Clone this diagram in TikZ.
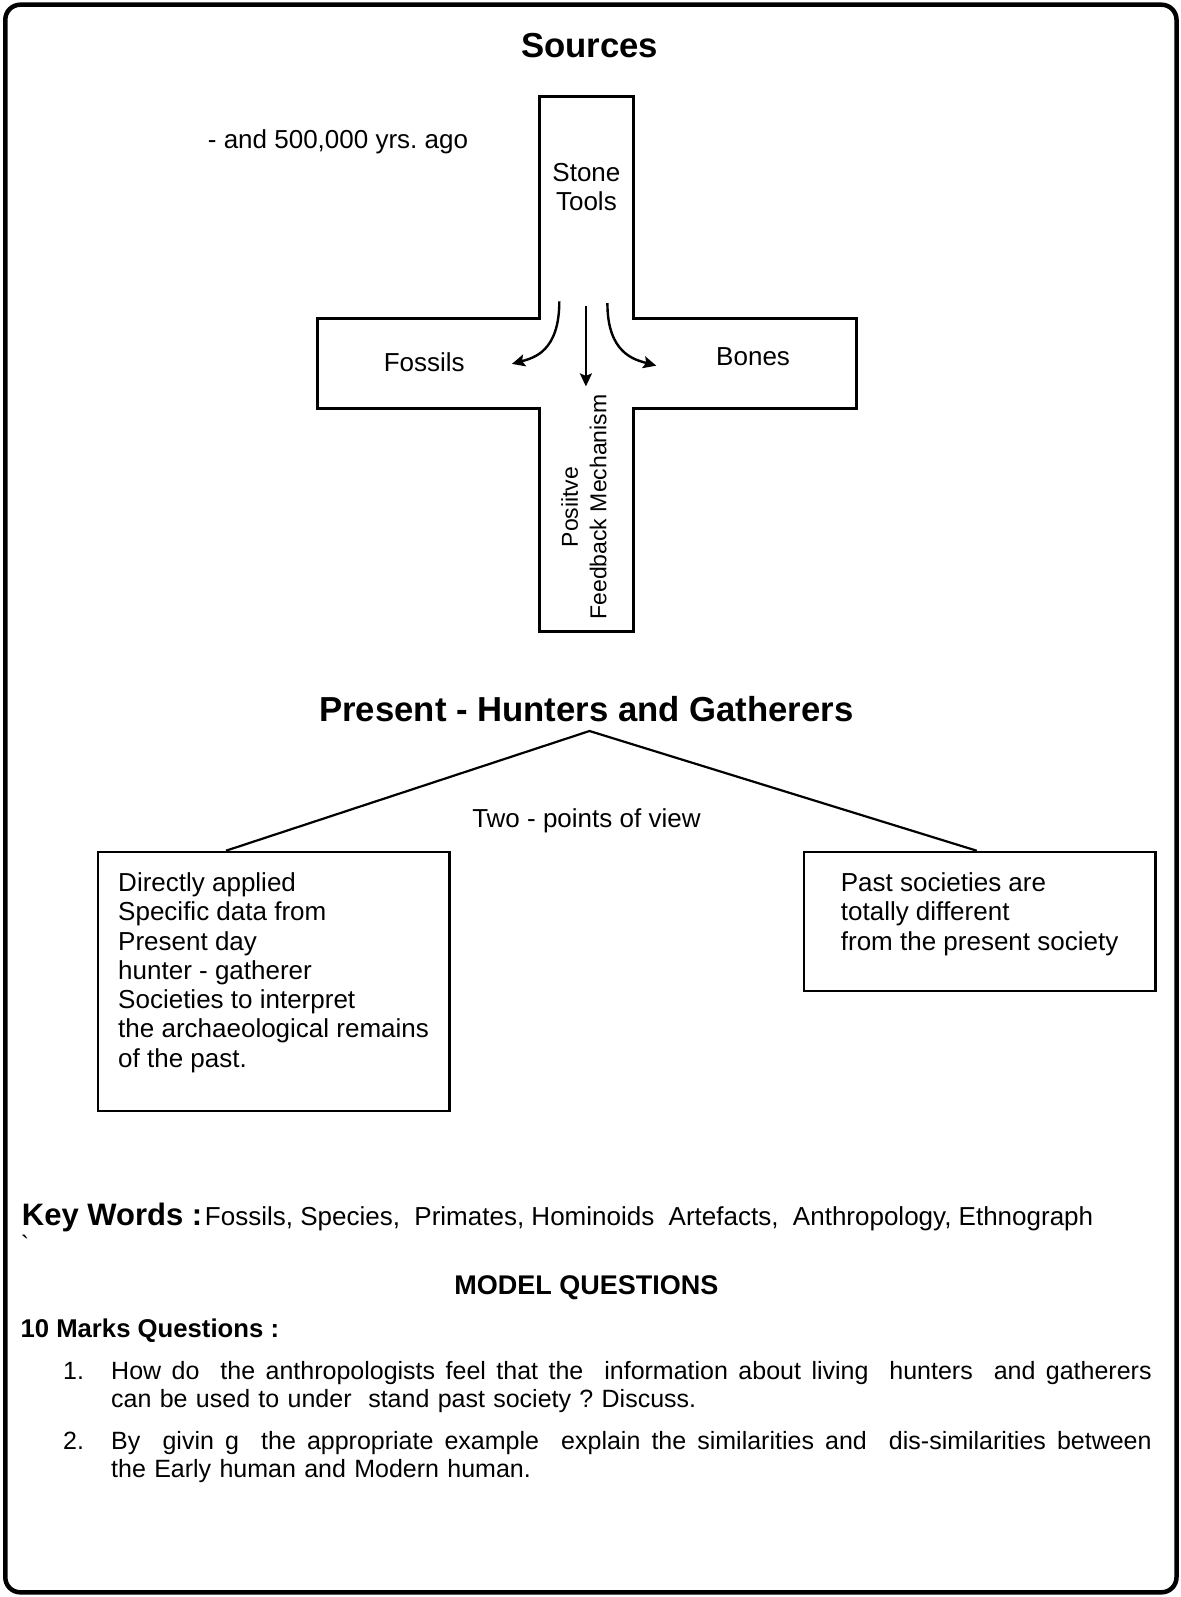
\documentclass[tikz,border=0pt]{standalone}
\usepackage{fontspec}
\setmainfont{Liberation Sans}
\usetikzlibrary{arrows.meta}
\frenchspacing
\newcommand{\js}{\hskip 6.95pt plus 1fil\relax}

\begin{document}
\begin{tikzpicture}[x=1pt, y=-1pt,
    heading/.style={font=\fontsize{34.7}{40}\selectfont\bfseries, inner sep=0pt},
    txt/.style={font=\fontsize{26}{29.5}\selectfont, inner sep=0pt},
    qtext/.style={font=\fontsize{25}{28}\selectfont, inner sep=0pt},
    box/.style={rectangle, draw, line width=2.2pt, align=left, inner sep=0pt, font=\fontsize{26}{29.3}\selectfont},
    arrow/.style={-{Stealth[length=13pt, width=12pt, inset=2.5pt]}, line width=2.4pt}
]
\useasboundingbox (0,0) rectangle (1180,1597);
\draw[line width=4.5pt, rounded corners=15pt] (5.3,4.7) rectangle (1176.5,1592.3);

% sources cross
\node[heading] (sources) at (589.5,45.8) {Sources};
\node[txt, anchor=base west] (ago) at (207.7,149) {- and 500,000 yrs. ago};
\draw[line width=2.6pt] (539.6,96.7) -- (633.2,96.7) -- (633.2,318.7) -- (856.2,318.7)
    -- (856.2,408.2) -- (633.2,408.2) -- (633.2,631.2) -- (539.6,631.2) -- (539.6,408.2)
    -- (317.6,408.2) -- (317.6,318.7) -- (539.6,318.7) -- cycle;
\node[txt, align=center] (stone) at (586.4,187.1) {Stone\\Tools};
\node[txt] (fossils) at (424.2,362) {Fossils};
\node[txt] (bones) at (753.1,356.8) {Bones};
\node[txt, font=\fontsize{23}{28.5}\selectfont, rotate=90, align=center] (feedback) at (584,507) {Posiitve\\Feedback Mechanism};

\coordinate (lstart) at (559.3,301.4);
\coordinate (lend) at (511.9,363.9);
\coordinate (mstart) at (585.9,305.7);
\coordinate (mend) at (585.9,386.4);
\coordinate (rstart) at (607.4,303.2);
\coordinate (rend) at (656.3,365.7);
\draw[arrow] (lstart) .. controls +(0,50) and +(22,-6) .. (lend);
\draw[arrow] (mstart) -- (mend);
\draw[arrow] (rstart) .. controls +(0,50) and +(-22,-6) .. (rend);

% hunters and gatherers
\node[heading] (present) at (586.4,708.6) {Present - Hunters and Gatherers};
\node[txt] (view) at (586.4,820.6) {Two - points of view};
\node[box, anchor=north west, minimum width=351.6pt, minimum height=259.3pt] (direct) at (96.7,850.7)
    {Directly applied\\Specific data from\\Present day\\hunter - gatherer\\Societies to interpret\\the archaeological remains\\of the past.\rule[-23pt]{0pt}{23pt}};
\node[box, anchor=north west, minimum width=351.6pt, minimum height=139.3pt] (past) at (802.7,850.7)
    {Past societies are\\totally different\\from the present society\rule[-20pt]{0pt}{20pt}};
\coordinate (apex) at (589.5,731);
\coordinate (lfoot) at (226,850.7);
\coordinate (rfoot) at (976.7,850.7);
\draw[line width=2.2pt] (lfoot) -- (apex) -- (rfoot);

% key words and questions
\node[anchor=base west, inner sep=0pt] (keywords) at (21.7,1225)
    {{\fontsize{31}{34}\selectfont\bfseries Key Words :} {\fontsize{26}{29}\selectfont Fossils, Species,\ \ Primates, Hominoids\ \ Artefacts,\ \ Anthropology, Ethnograph}};
\node[txt, font=\fontsize{25}{28}\selectfont, anchor=base west] (tick) at (20.7,1253) {\textasciigrave};
\node[heading, font=\fontsize{27}{30}\selectfont\bfseries] (model) at (586.4,1287.5) {MODEL QUESTIONS};
\node[txt, font=\fontsize{25.7}{28}\selectfont\bfseries, anchor=base west] (marks) at (20.4,1337) {10 Marks Questions :};
\node[qtext, anchor=base west] (numone) at (63,1379.3) {1.};
\node[qtext, anchor=base west, text width=1040.5pt, align=left] (qone) at (111,1379.3)
    {\hbox to 1040.5pt{How\js do\js\js the\js anthropologists\js feel\js that\js the\js\js information\js about\js living\js\js hunters\js\js and\js gatherers}\\can be used to under\ \ stand past society ? Discuss.};
\node[qtext, anchor=base west] (numtwo) at (63,1449.3) {2.};
\node[qtext, anchor=base west, text width=1040.5pt, align=left] (qtwo) at (111,1449.3)
    {\hbox to 1040.5pt{By\js\js givin\js g\js\js the\js appropriate\js example\js\js explain\js the\js similarities\js and\js\js dis-similarities\js between}\\the Early human and Modern human.};
\end{tikzpicture}
\end{document}
